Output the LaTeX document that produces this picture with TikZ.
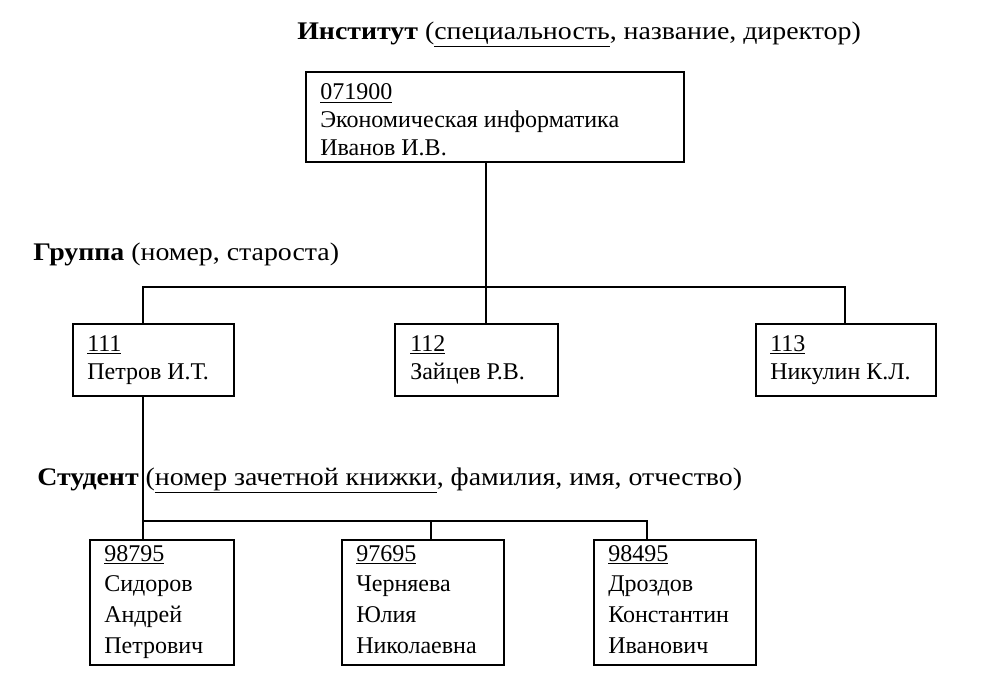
\documentclass[tikz,border=0pt]{standalone}
\usepackage{fontspec}
\setmainfont{Liberation Serif}
\newfontfamily\titlefont{Liberation Serif}[FakeStretch=1.1]
\begin{document}
\begin{tikzpicture}[x=0.75pt,y=-0.75pt,
    box/.style={draw, line width=1.4pt, inner sep=0pt, anchor=north west},
    boxtext/.style={anchor=base west, inner sep=0pt, align=left, font=\fontsize{18}{21}\selectfont},
    studtext/.style={boxtext, font=\fontsize{18}{23}\selectfont},
    title/.style={anchor=base west, inner sep=0pt, font=\titlefont\fontsize{19}{21}\selectfont},
    link/.style={line width=1.4pt}]
    \useasboundingbox[fill=white] (0,0) rectangle (982,688);

    % Draw the institute level
    \node[title] (insttitle) at (297,40) {\textbf{Институт} (\underline{специальность}, название, директор)};
    \node[box, minimum width=378*0.75pt, minimum height=90*0.75pt] (inst) at (305,71) {};
    \node[boxtext] (insttext) at (320,156) {\underline{071900}\\Экономическая информатика\\Иванов И.В.};

    % Draw the group level
    \node[title] (grouptitle) at (33,261) {\textbf{Группа} (номер, староста)};
    \node[box, minimum width=161*0.75pt, minimum height=72*0.75pt] (g1) at (72,323) {};
    \node[box, minimum width=163*0.75pt, minimum height=72*0.75pt] (g2) at (394,323) {};
    \node[box, minimum width=180*0.75pt, minimum height=72*0.75pt] (g3) at (755,323) {};
    \node[boxtext] (g1text) at (87,379) {\underline{111}\\Петров И.Т.};
    \node[boxtext] (g2text) at (410,379) {\underline{112}\\Зайцев Р.В.};
    \node[boxtext] (g3text) at (770,379) {\underline{113}\\Никулин К.Л.};

    % Draw the student level
    \node[title] (studtitle) at (37,485) {\textbf{Студент} (\underline{номер зачетной книжки}, фамилия, имя, отчество)};
    \node[box, minimum width=144*0.75pt, minimum height=125*0.75pt] (s1) at (89,539) {};
    \node[box, minimum width=162*0.75pt, minimum height=125*0.75pt] (s2) at (341,539) {};
    \node[box, minimum width=162*0.75pt, minimum height=125*0.75pt] (s3) at (593,539) {};
    \node[studtext] (s1text) at (104,653) {\underline{98795}\\Сидоров\\Андрей\\Петрович};
    \node[studtext] (s2text) at (356,653) {\underline{97695}\\Черняева\\Юлия\\Николаевна};
    \node[studtext] (s3text) at (608,653) {\underline{98495}\\Дроздов\\Константин\\Иванович};

    % Draw the group connectors
    \coordinate (gleft) at (143,287);
    \coordinate (gmid) at (486,287);
    \coordinate (gright) at (845,287);
    \draw[link] (gmid |- inst.south) -- (gmid |- g2.north);
    \draw[link] (gleft |- g1.north) -- (gleft) -- (gright) -- (gright |- g3.north);

    % Draw the student connectors
    \coordinate (sleft) at (143,521);
    \coordinate (smid) at (431,521);
    \coordinate (sright) at (647,521);
    \draw[link] (sleft |- g1.south) -- (sleft |- s1.north);
    \draw[link] (sleft) -- (sright) -- (sright |- s3.north);
    \draw[link] (smid) -- (smid |- s2.north);
\end{tikzpicture}
\end{document}
